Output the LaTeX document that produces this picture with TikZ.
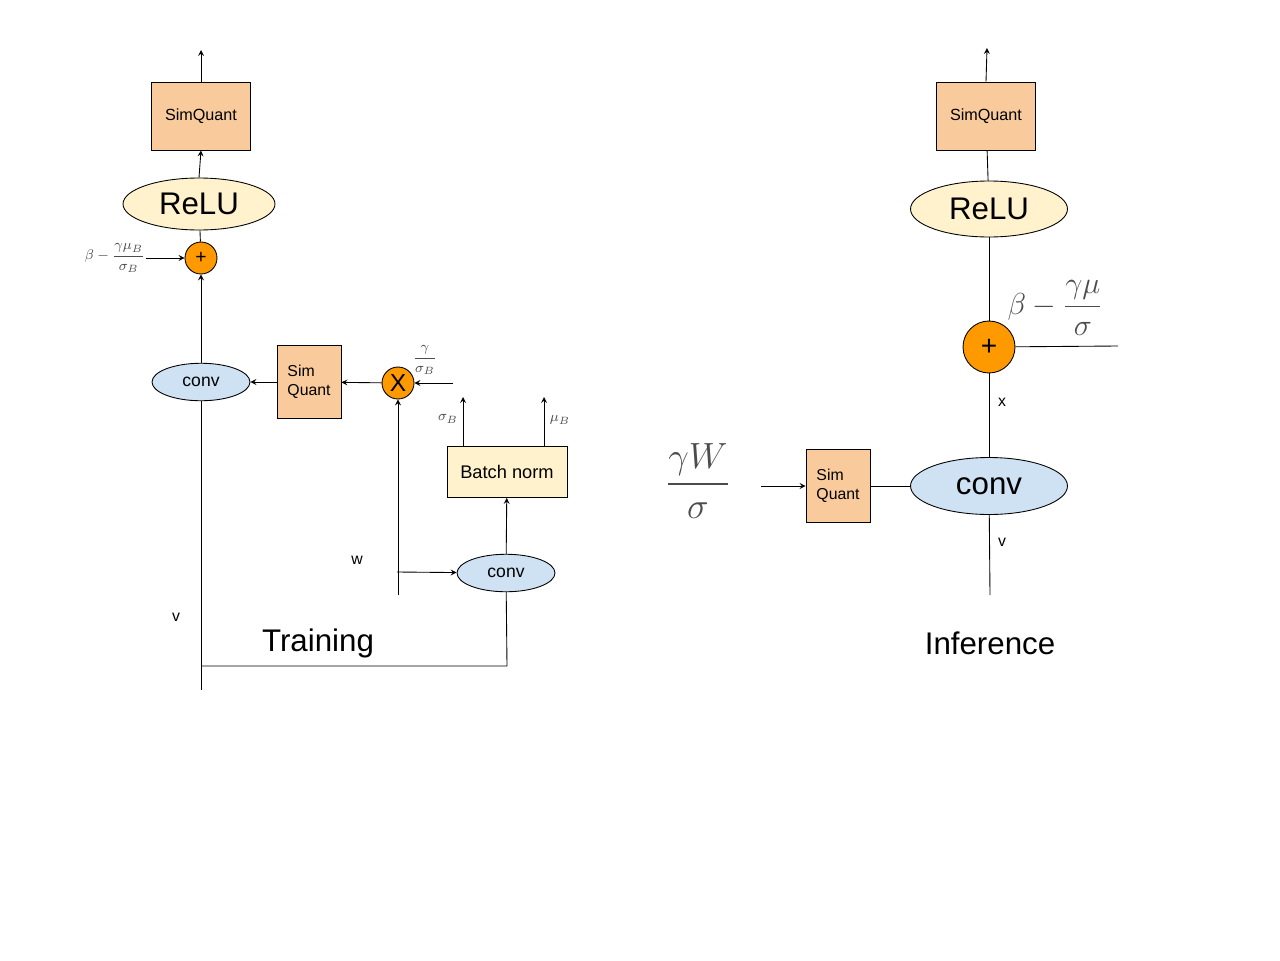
\documentclass[tikz,border=0pt]{standalone}
\usepackage{amsmath}
\usepackage{amssymb}
\usepackage{fontspec}
\setmainfont{Liberation Sans}
\usetikzlibrary{shapes.geometric}
\definecolor{quantfill}{HTML}{F9CB9C}
\definecolor{relufill}{HTML}{FFF2CC}
\definecolor{convfill}{HTML}{CFE2F3}
\definecolor{addfill}{HTML}{FF9900}
\begin{document}
\begin{tikzpicture}[x=0.02cm,y=-0.02cm,line width=0.5pt,>=stealth,
 quant/.style={draw,fill=quantfill,inner sep=0pt,minimum width=1.98cm,minimum height=1.36cm,font=\fontsize{9.2}{11}\selectfont},
 sq/.style={draw,fill=quantfill,inner sep=0pt,minimum width=1.28cm,minimum height=1.46cm,align=left,font=\fontsize{9}{11}\selectfont},
 relu/.style={ellipse,draw,fill=relufill,inner sep=0pt,minimum width=3.04cm,minimum height=1.04cm,font=\fontsize{17.8}{20}\selectfont},
 convs/.style={ellipse,draw,fill=convfill,inner sep=0pt,minimum width=1.96cm,minimum height=0.75cm,font=\fontsize{10}{12}\selectfont},
 convb/.style={ellipse,draw,fill=convfill,inner sep=0pt,minimum width=3.14cm,minimum height=1.14cm,font=\fontsize{17.8}{20}\selectfont},
 add/.style={circle,draw,fill=addfill,inner sep=0pt,minimum size=0.64cm,font=\fontsize{11}{12}\selectfont},
 addb/.style={circle,draw,fill=addfill,inner sep=0pt,minimum size=1.04cm,font=\fontsize{16}{18}\selectfont},
 bn/.style={draw,fill=relufill,inner sep=0pt,minimum width=2.4cm,minimum height=1.02cm,font=\fontsize{10.4}{12}\selectfont},
 lbl/.style={inner sep=0pt,font=\fontsize{9}{11}\selectfont},
 title/.style={inner sep=0pt,font=\fontsize{17.8}{20}\selectfont},
 mathlbl/.style={inner sep=0pt,text=black!70,font=\fontsize{8.5}{10}\selectfont},
 mathbig/.style={inner sep=0pt,text=black!70,font=\fontsize{19}{22}\selectfont}]
%\draw[help lines] (0,0) grid[step=50] (1280,960);
\useasboundingbox (0,0) rectangle (1280,960);

% training
\node[quant] (tq) at (201,116) {SimQuant};
\coordinate (tqout) at (201,50);
\draw[->] (tq.north) -- (tqout);

\node[relu] (trelu) at (199,204) {ReLU};
\draw[->] (trelu.north) -- (tq.south);

\node[add] (tadd) at (201,258) {+};
\draw (tadd) -- (trelu);
\node[mathlbl] (tbias) at (115,258) {$\beta-\dfrac{\gamma\mu_B}{\sigma_B}$};
\draw[->] (tbias.east) -- (tadd.west);

\node[convs] (tconv) at (201,382) {conv};
\draw[->] (tconv) -- (tadd);

\node[sq] (tsq) at (309,382) {Sim\\Quant};
\draw[->] (tsq) -- (tconv);

\node[add,font=\fontsize{14}{16}\selectfont] (tmul) at (398,383) {X};
\draw[->] (tmul) -- (tsq);
\node[mathlbl] (tscale) at (425,360) {$\dfrac{\gamma}{\sigma_B}$};
\coordinate (tscalein) at (453,383);
\draw[->] (tscalein) -- (tmul);

\coordinate (tw) at (398,595);
\draw[->] (tw) -- (tmul);
\node[lbl] (twlbl) at (357,560) {w};

\node[convs] (tconvb) at (506,573) {conv};
\coordinate (twtap) at (397,572);
\draw[->] (twtap) -- (tconvb);

\node[bn] (tbn) at (507,472) {Batch norm};
\draw[->] (tconvb) -- (tbn);
\coordinate (tsig) at (463,397);
\coordinate (tmu) at (544,397);
\draw[->] (tsig |- tbn.north) -- (tsig);
\draw[->] (tmu |- tbn.north) -- (tmu);
\node[mathlbl] (tsiglbl) at (448,419) {$\sigma_B$};
\node[mathlbl] (tmulbl) at (560,420) {$\mu_B$};

\coordinate (tvin) at (201,690);
\coordinate (tcorner) at (507,666);
\draw (tconv) -- (tvin);
\draw (tconvb) -- (tcorner) -- (tcorner -| tvin);
\node[lbl] (tvlbl) at (176,617) {v};
\node[title] (ttitle) at (318,643) {Training};

% inference
\node[quant] (iq) at (986,116) {SimQuant};
\coordinate (iqout) at (987,48);
\draw[->] (iq.north) -- (iqout);

\node[relu,minimum width=3.14cm,minimum height=1.12cm] (irelu) at (989,209) {ReLU};
\draw (irelu) -- (iq);

\node[addb] (iadd) at (989,347) {+};
\draw (iadd) -- (irelu);
\node[mathbig] (ibias) at (1055,308) {$\beta-\dfrac{\gamma\mu}{\sigma}$};
\coordinate (ibiasin) at (1118,346);
\draw (iadd) -- (ibiasin);

\node[convb] (iconv) at (989,486) {conv};
\draw (iconv) -- (iadd);
\node[lbl] (ixlbl) at (1002,402) {x};

\node[sq] (isq) at (838,486) {Sim\\Quant};
\draw (isq) -- (iconv);
\coordinate (iwin) at (761,486);
\draw[->] (iwin) -- (isq);
\node[mathbig,font=\fontsize{21}{24}\selectfont] (iw) at (698,481) {$\dfrac{\gamma W}{\sigma}$};

\coordinate (ivin) at (990,595);
\draw (iconv) -- (ivin);
\node[lbl] (ivlbl) at (1002,542) {v};
\node[title] (ititle) at (990,643) {Inference};

\end{tikzpicture}
\end{document}
